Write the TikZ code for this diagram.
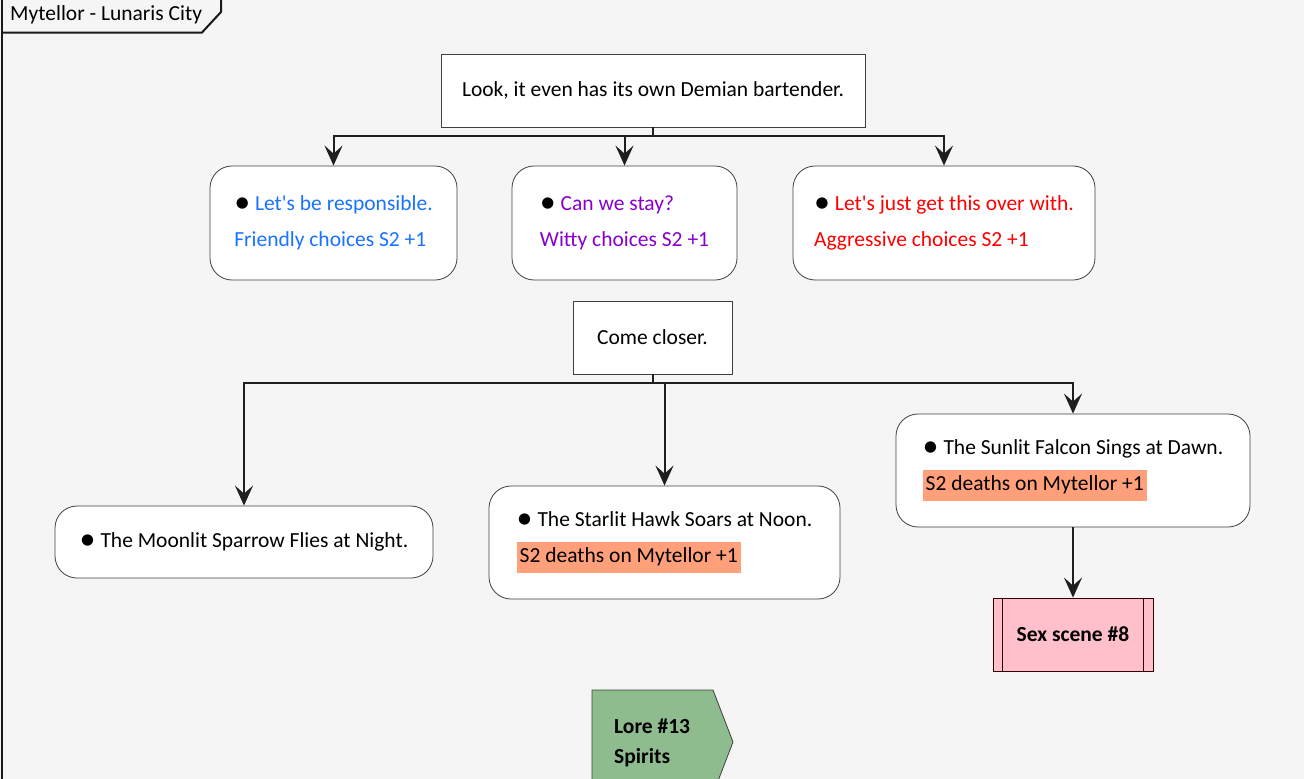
\documentclass[tikz,border=0pt]{standalone}
\usepackage{fontspec}
\setmainfont{Carlito}[Ligatures=TeXOff]
\usepackage{xcolor}
\usetikzlibrary{arrows.meta}

\definecolor{pagebg}{HTML}{F5F5F5}
\definecolor{friendly}{HTML}{1A73FF}
\definecolor{witty}{HTML}{8800CC}
\definecolor{aggressive}{HTML}{FF0000}
\definecolor{deathbg}{HTML}{FFA07A}
\definecolor{scenebg}{HTML}{FFC0CB}
\definecolor{lorebg}{HTML}{8FBC8F}

\newcommand{\deathtag}[1]{{\setlength{\fboxsep}{3pt}\colorbox{deathbg}{\rule[-7pt]{0pt}{25pt}#1}}}
\newcommand{\pickdot}{\textcolor{black}{\raisebox{-1.5pt}{\fontsize{32}{36}\selectfont\textbullet}}\ }

\tikzset{
  say/.style={draw=black!75, line width=0.8pt, fill=white, align=center},
  choice/.style={draw=black!75, line width=0.8pt, fill=white, rounded corners=22pt, align=left},
  flow/.style={draw=black!88, line width=2pt, -{Stealth[length=20pt,width=18pt,inset=8pt]}},
  joint/.style={draw=black!88, line width=2pt},
}

\begin{document}
\begin{tikzpicture}[x=1pt, y=-1pt, font=\fontsize{21.5}{36}\selectfont]
\fill[pagebg] (0,0) rectangle (1304,779);
\useasboundingbox (0,0) rectangle (1304,779);

% package frame
\draw[line width=2pt, black!90] (1.5,779) -- (1.5,0);
\draw[line width=2pt, black!90] (221,0) -- (221,12) -- (202,32.5) -- (1.5,32.5);
\node[anchor=west, inner sep=0pt] (city) at (10,15) {Mytellor - Lunaris City};

% first choice
\node[say, minimum width=424pt, minimum height=73pt] (bar) at (653,90.5) {Look, it even has its own Demian bartender.};
\coordinate (j1) at (653,136);
\node[choice, text=friendly, minimum width=247pt, minimum height=114pt] (resp) at (333.5,223)
  {\pickdot Let's be responsible.\\Friendly choices S2 +1};
\node[choice, text=witty, minimum width=225pt, minimum height=114pt] (stay) at (624.5,223)
  {\pickdot Can we stay?\\Witty choices S2 +1};
\node[choice, text=aggressive, minimum width=302pt, minimum height=114pt] (over) at (944,223)
  {\pickdot Let's just get this over with.\\Aggressive choices S2 +1};
\draw[joint] (bar.south) -- (j1);
\draw[flow] (j1) -| (resp.north);
\draw[flow] (j1) -| (stay.north);
\draw[flow] (j1) -| (over.north);

% second choice
\node[say, minimum width=159pt, minimum height=73pt] (closer) at (652.5,337.5) {Come closer.};
\coordinate (j2) at (652.5,383);
\node[choice, minimum width=378pt, minimum height=72pt] (sparrow) at (244,542)
  {\pickdot The Moonlit Sparrow Flies at Night.};
\node[choice, minimum width=351pt, minimum height=113pt] (hawk) at (664.5,542.5)
  {\pickdot The Starlit Hawk Soars at Noon.\\\deathtag{S2 deaths on Mytellor +1}};
\node[choice, minimum width=354pt, minimum height=113pt] (falcon) at (1073,470.5)
  {\pickdot The Sunlit Falcon Sings at Dawn.\\\deathtag{S2 deaths on Mytellor +1}};
\draw[joint] (closer.south) -- (j2);
\draw[flow] (j2) -| (sparrow.north);
\draw[flow] (j2) -| (hawk.north);
\draw[flow] (j2) -| (falcon.north);

% scene and lore
\node[draw=black!80!red, line width=0.8pt, fill=scenebg, minimum width=160pt, minimum height=73pt,
  font=\fontsize{21.5}{36}\selectfont\bfseries] (sex) at (1073,634.5) {Sex scene \#8};
\draw[black!80!red, line width=0.8pt] ([xshift=10pt]sex.north west) -- ([xshift=10pt]sex.south west);
\draw[black!80!red, line width=0.8pt] ([xshift=-10pt]sex.north east) -- ([xshift=-10pt]sex.south east);
\draw[flow] (falcon.south) -- (sex.north);

\draw[black!75, line width=0.8pt, fill=lorebg] (592,690) -- (713,690) -- (733,742) -- (713,794) -- (592,794) -- cycle;
\node[anchor=west, align=left, inner sep=0pt, font=\fontsize{21.5}{30}\selectfont\bfseries] (lore) at (614,743) {Lore \#13\\Spirits};
\end{tikzpicture}
\end{document}
